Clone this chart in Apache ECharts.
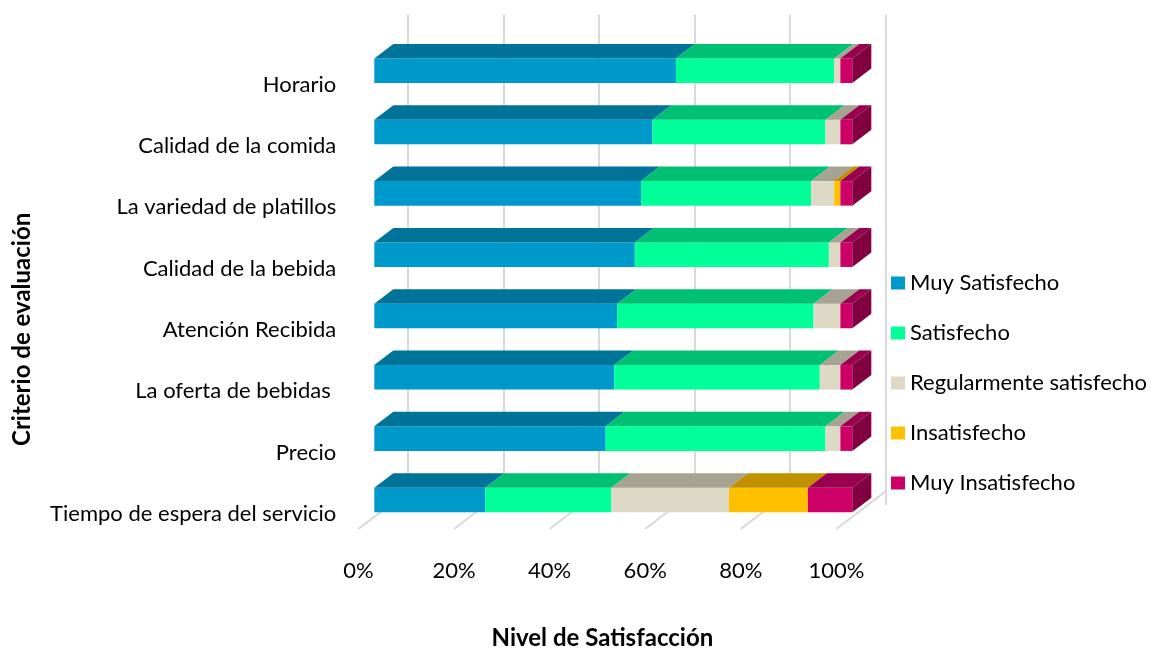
<!DOCTYPE html>
<html>
<head>
<meta charset="utf-8">
<script src="https://cdn.jsdelivr.net/npm/echarts@6/dist/echarts.min.js"></script>
<style>
  html, body { margin: 0; padding: 0; background: #ffffff; }
  #chart { width: 1153px; height: 655px; }
</style>
</head>
<body>
<div id="chart"></div>
<script>
// Evaluation criteria (top to bottom)
const categories = [
  'Horario',
  'Calidad de la comida',
  'La variedad de platillos',
  'Calidad de la bebida',
  'Atención Recibida',
  'La oferta de bebidas ',
  'Precio',
  'Tiempo de espera del servicio'
];
const seriesNames = ['Muy Satisfecho', 'Satisfecho', 'Regularmente satisfecho', 'Insatisfecho', 'Muy Insatisfecho'];

// Share of answers per criterion (%)
const muySatisfecho   = [63.1, 58.2, 55.8, 54.5, 50.8, 50.2, 48.4, 23.2];
const satisfecho      = [33.1, 36.2, 35.6, 40.6, 41.1, 43.0, 46.0, 26.4];
const regularmente    = [1.3, 3.1, 4.8, 2.4, 5.6, 4.3, 3.1, 24.6];
const insatisfecho    = [0, 0, 1.3, 0, 0, 0, 0, 16.5];
const muyInsatisfecho = [2.5, 2.5, 2.5, 2.5, 2.5, 2.5, 2.5, 9.3];

const tickValues = [0, 20, 40, 60, 80, 100];

const seriesValues = [muySatisfecho, satisfecho, regularmente, insatisfecho, muyInsatisfecho];

// face colours: front, top, right side
const frontColors = ['#0099CC', '#00FF99', '#DDD9C4', '#FFC000', '#CC0066'];
const topColors   = ['#007399', '#00C073', '#A6A392', '#C09000', '#99004D'];
const sideColors  = ['#006080', '#00A060', '#8A8779', '#A07800', '#800040'];

// projection of the bar depth and of the full floor depth (px)
const BAR_DX = 19, BAR_DY = 14.5;
const FLOOR_DX = 49.3, FLOOR_DY = 37.7;
const GRID_COLOR = '#D9D9D9';
const FONT = 'Lato, "Open Sans", sans-serif';

// cumulative starts for the 100% stack
function stackData(si) {
  return categories.map((c, ci) => {
    let start = 0;
    for (let k = 0; k < si; k++) start += seriesValues[k][ci];
    return [ci, start, start + seriesValues[si][ci]];
  });
}

function isLastSegment(si, ci) {
  for (let k = si + 1; k < seriesValues.length; k++) {
    if (seriesValues[k][ci] > 0) return false;
  }
  return true;
}

function boxRenderer(si) {
  return function (params, api) {
    const ci = api.value(0);
    const start = api.value(1);
    const end = api.value(2);
    if (end - start <= 0) return null;
    const a = api.coord([start, ci]);
    const b = api.coord([end, ci]);
    const band = api.size([0, 1])[1];
    const h = band * 0.4;
    const x0 = a[0], x1 = b[0];
    const yt = a[1] - h / 2, yb = a[1] + h / 2;
    const children = [
      { type: 'rect', shape: { x: x0, y: yt, width: x1 - x0, height: h },
        style: { fill: frontColors[si] } },
      { type: 'polygon', shape: { points: [[x0, yt], [x0 + BAR_DX, yt - BAR_DY], [x1 + BAR_DX, yt - BAR_DY], [x1, yt]] },
        style: { fill: topColors[si] } }
    ];
    if (isLastSegment(si, ci)) {
      children.push({ type: 'polygon',
        shape: { points: [[x1, yt], [x1 + BAR_DX, yt - BAR_DY], [x1 + BAR_DX, yb - BAR_DY], [x1, yb]] },
        style: { fill: sideColors[si] } });
    }
    return { type: 'group', children: children };
  };
}

const chart = echarts.init(document.getElementById('chart'), null, { renderer: 'canvas' });

const series = [
  // diagonal floor lines
  {
    type: 'custom',
    name: 'floor',
    xAxisIndex: 2,
    yAxisIndex: 2,
    silent: true,
    z: 1,
    data: tickValues.map(v => [v, 0]),
    renderItem: function (params, api) {
      const p = api.coord([api.value(0), api.value(1)]);
      return {
        type: 'line',
        shape: { x1: p[0], y1: p[1], x2: p[0] + FLOOR_DX, y2: p[1] - FLOOR_DY },
        style: { stroke: GRID_COLOR, lineWidth: 2 }
      };
    }
  }
];

seriesNames.forEach((name, si) => {
  series.push({
    type: 'custom',
    name: name,
    xAxisIndex: 1,
    yAxisIndex: 1,
    z: 3,
    itemStyle: { color: frontColors[si] },
    encode: { x: [1, 2], y: 0 },
    data: stackData(si),
    renderItem: boxRenderer(si)
  });
});

const option = {
  backgroundColor: '#ffffff',
  animation: false,
  textStyle: { fontFamily: FONT },
  grid: [
    { left: 407.7, top: 14.5, width: 478, height: 490.5 },  // back wall
    { left: 374.3, top: 40.1, width: 478, height: 490.5 },  // bar front plane
    { left: 358.4, top: 52.2, width: 478, height: 490.5 }   // floor front edge
  ],
  xAxis: [
    {
      gridIndex: 0, type: 'value', min: 0, max: 100, interval: 20,
      axisLine: { show: false }, axisTick: { show: false }, axisLabel: { show: false },
      splitLine: { show: true, lineStyle: { color: GRID_COLOR, width: 2 } }
    },
    {
      gridIndex: 1, type: 'value', min: 0, max: 100, show: false
    },
    {
      gridIndex: 2, type: 'value', min: 0, max: 100, interval: 20,
      axisLine: { show: false }, axisTick: { show: false },
      splitLine: { show: false },
      axisLabel: { formatter: '{value}%', fontSize: 22, color: '#000000', margin: 31, fontFamily: FONT },
      name: 'Nivel de Satisfacción',
      nameLocation: 'middle',
      nameGap: 97,
      nameTextStyle: { fontSize: 24, fontWeight: 'bold', color: '#000000', fontFamily: FONT, padding: [0, 0, 0, 10] }
    }
  ],
  yAxis: [
    { gridIndex: 0, type: 'category', data: categories, inverse: true, show: false },
    {
      gridIndex: 1, type: 'category', data: categories, inverse: true,
      axisLine: { show: false }, axisTick: { show: false }, splitLine: { show: false },
      axisLabel: { fontSize: 22, color: '#000000', margin: 38, verticalAlign: 'top', lineHeight: 28, fontFamily: FONT },
      name: 'Criterio de evaluación',
      nameLocation: 'middle',
      nameRotate: 90,
      nameGap: 340,
      nameTextStyle: { fontSize: 24, fontWeight: 'bold', color: '#000000', fontFamily: FONT, padding: [0, 88, 0, 0] }
    },
    { gridIndex: 2, type: 'value', min: 0, max: 1, show: false }
  ],
  legend: {
    data: seriesNames,
    orient: 'vertical',
    left: 891,
    top: 272,
    icon: 'rect',
    itemWidth: 14,
    itemHeight: 13,
    itemGap: 28,
    padding: 0,
    textStyle: { fontSize: 22, color: '#000000', lineHeight: 22, fontFamily: FONT }
  },
  series: series
};

chart.setOption(option);
</script>
</body>
</html>
